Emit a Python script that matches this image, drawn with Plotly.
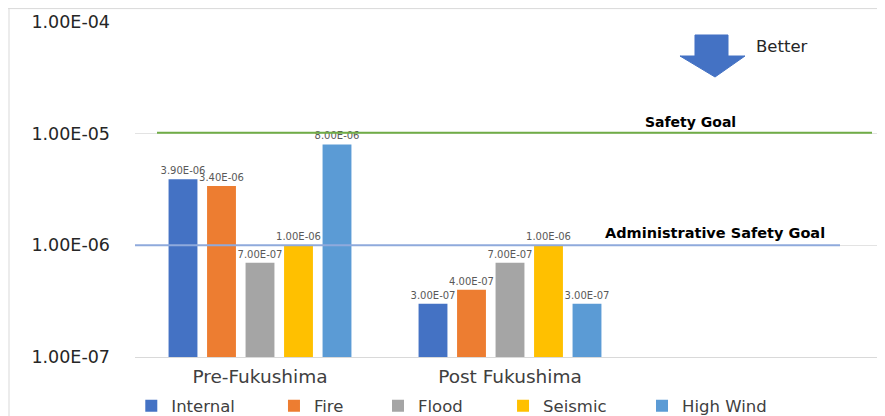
import plotly.graph_objects as go

categories = ["Pre-Fukushima", "Post Fukushima", " "]
series_names = ["Internal", "Fire", "Flood", "Seismic", "High Wind"]
internal = [3.9e-6, 3.0e-7, None]
fire = [3.4e-6, 4.0e-7, None]
flood = [7.0e-7, 7.0e-7, None]
seismic = [1.0e-6, 1.0e-6, None]
high_wind = [8.0e-6, 3.0e-7, None]
safety_goal = 1.02e-5
admin_goal = 1.0e-6
tick_vals = [1e-7, 1e-6, 1e-5, 1e-4]
tick_text = ["1.00E-07", "1.00E-06", "1.00E-05", "1.00E-04"]

colors = ["#4472C4", "#ED7D31", "#A5A5A5", "#FFC000", "#5B9BD5"]
font = "DejaVu Sans"
legend_ids = ["legend", "legend2", "legend3", "legend4", "legend5"]
legend_x = [-0.005, 0.1873, 0.3275, 0.496, 0.6833]

fig = go.Figure()
for name, vals, col, lid in zip(series_names, [internal, fire, flood, seismic, high_wind], colors, legend_ids):
    fig.add_trace(go.Bar(
        name=name, x=categories, y=vals, legend=lid,
        marker=dict(color=col, line=dict(width=0)),
        text=[f"{v:.2E}" if v is not None else "" for v in vals],
        textposition="outside", cliponaxis=False, constraintext="none",
        textfont=dict(size=10, color="#595959", family=font),
    ))

layout_legends = {}
for lid, lx in zip(legend_ids, legend_x):
    layout_legends[lid] = dict(orientation="h", x=lx, xanchor="left", y=-0.146, yanchor="middle",
                               font=dict(size=16.5, color="#404040", family=font),
                               bgcolor="rgba(0,0,0,0)", itemwidth=30)

fig.update_layout(
    width=869, height=408,
    margin=dict(l=127, r=0, t=14, b=59, autoexpand=False),
    paper_bgcolor="white", plot_bgcolor="white",
    barmode="group", bargap=0.23, bargroupgap=0.25,
    font=dict(family=font, color="#404040"),
    showlegend=True,
    xaxis=dict(type="category", range=[-0.5, 2.468], showgrid=False,
               showline=True, linecolor="#D9D9D9", linewidth=1,
               ticklabelstandoff=3,
               tickfont=dict(size=18.5, color="#404040", family=font), ticks=""),
    yaxis=dict(type="log", range=[-7, -4], tickvals=tick_vals, ticktext=tick_text,
               showgrid=True, gridcolor="#E3E3E3", gridwidth=1, zeroline=False,
               showline=False, ticks="", ticklabelstandoff=24,
               tickfont=dict(size=17.5, color="#262626", family=font)),
    **layout_legends,
)

fig.add_shape(type="line", xref="x", yref="y", x0=-0.412, x1=2.448, y0=safety_goal, y1=safety_goal,
              line=dict(color="#70AD47", width=2))
fig.add_shape(type="line", xref="x", yref="y", x0=-0.5, x1=2.32, y0=admin_goal, y1=admin_goal,
              line=dict(color="#8FAADC", width=2))

fig.add_annotation(text="<b>Safety Goal</b>", xref="paper", yref="paper", x=0.7493, y=0.7015,
                   xanchor="center", yanchor="middle",
                   showarrow=False, font=dict(size=14, color="#000000", family=font))
fig.add_annotation(text="<b>Administrative Safety Goal</b>", xref="paper", yref="paper", x=0.781, y=0.3701,
                   xanchor="center", yanchor="middle",
                   showarrow=False, font=dict(size=14.5, color="#000000", family=font))
fig.add_annotation(text="Better", xref="paper", yref="paper", x=0.872, y=0.9254,
                   xanchor="center", yanchor="middle",
                   showarrow=False, font=dict(size=16.5, color="#262626", family=font))

# down arrow
fig.add_shape(type="path", xref="paper", yref="paper",
              path="M 0.7547 0.9612 L 0.7992 0.9612 L 0.7992 0.8985 L 0.8221 0.8985 L 0.7817 0.8358 L 0.7345 0.8985 L 0.7547 0.8985 Z",
              fillcolor="#4472C4", line=dict(color="#4472C4", width=1))

# frame lines
fig.add_shape(type="line", xref="paper", yref="paper", x0=-0.1712, x1=1.0, y0=1.040, y1=1.040,
              line=dict(color="#D9D9D9", width=1))
fig.add_shape(type="line", xref="paper", yref="paper", x0=-0.1698, x1=-0.1698, y0=1.040, y1=-0.2,
              line=dict(color="#D9D9D9", width=1))

fig.write_html("out.html")
